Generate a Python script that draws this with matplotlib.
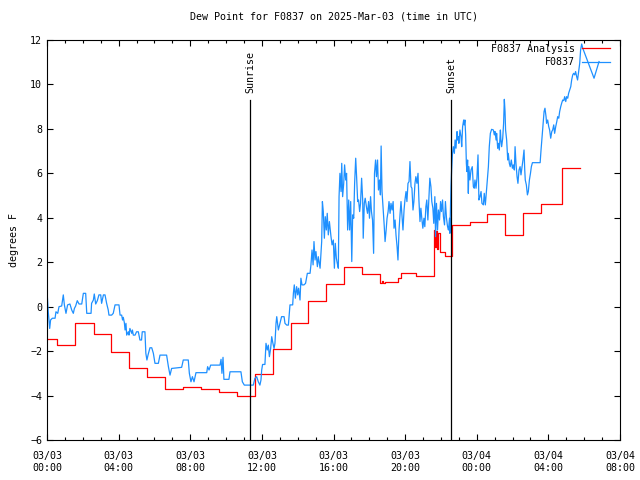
import matplotlib
matplotlib.use('Agg')
import matplotlib.pyplot as plt
from matplotlib.lines import Line2D

plt.rcParams['font.family'] = ['DejaVu Sans Mono']
plt.rcParams['font.size'] = 7.2

# hours since 03/03 00:00 UTC
hour_ticks = [0, 4, 8, 12, 16, 20, 24, 28, 32]
hour_labels = ["03/03\n00:00", "03/03\n04:00", "03/03\n08:00", "03/03\n12:00", "03/03\n16:00",
               "03/03\n20:00", "03/04\n00:00", "03/04\n04:00", "03/04\n08:00"]
y_ticks = [-6, -4, -2, 0, 2, 4, 6, 8, 10, 12]

sunrise = 11.34
sunset = 22.56

# analysis (hourly steps)
ana_t = [0, 0.58, 1.58, 2.6, 3.6, 4.6, 5.6, 6.6, 7.6, 8.6, 9.6, 10.6, 11.6, 12.6, 13.6,
         14.6, 15.6, 16.6, 17.6, 18.6, 18.7, 18.75, 18.85, 19.6, 19.75, 20.6, 21.6, 21.65,
         21.7, 21.8, 21.85, 21.95, 22.2, 22.6, 23.6, 24.6, 25.6, 26.6, 27.6, 28.75, 29.77]
ana_v = [-1.47, -1.73, -0.75, -1.23, -2.05, -2.78, -3.15, -3.72, -3.63, -3.72, -3.83, -4.02,
         -3.03, -1.92, -0.72, 0.25, 1.0, 1.77, 1.47, 1.05, 1.15, 1.05, 1.12, 1.3, 1.5, 1.39,
         3.45, 2.7, 3.4, 2.6, 3.3, 2.47, 2.28, 3.67, 3.8, 4.17, 3.23, 4.2, 4.62, 6.25, 6.25]

# station obs
obs_t = [0.02, 0.07, 0.15, 0.2, 0.3, 0.45, 0.5, 0.6, 0.67, 0.82, 0.91, 0.97, 1.06, 1.15,
         1.28, 1.38, 1.47, 1.53, 1.6, 1.69, 1.79, 1.94, 2.03, 2.16, 2.22, 2.46, 2.49, 2.59,
         2.64, 2.72, 2.81, 2.9, 3.0, 3.05, 3.15, 3.24, 3.33, 3.42, 3.46, 3.61, 3.7, 3.8,
         4.02, 4.08, 4.17, 4.22, 4.26, 4.32, 4.36, 4.41, 4.45, 4.54, 4.58, 4.63, 4.73, 4.77,
         4.82, 4.92, 5.0, 5.1, 5.19, 5.28, 5.32, 5.47,
         5.52, 5.58, 5.65, 5.75, 5.85, 5.94, 6.03, 6.22, 6.31, 6.68, 6.78, 6.87, 6.96, 7.52,
         7.61, 7.89, 7.95, 8.04, 8.12, 8.21, 8.32, 8.92, 8.97, 9.05, 9.14, 9.66, 9.72, 9.77,
         9.83, 9.88, 10.16, 10.22, 10.83, 10.91, 11.02, 11.52,
         11.61, 11.71, 11.8, 11.89, 11.95, 11.99, 12.04, 12.17, 12.23, 12.3, 12.36, 12.42,
         12.49, 12.55, 12.6, 12.68, 12.73, 12.79, 12.83, 12.92, 13.01, 13.1, 13.24, 13.29,
         13.39, 13.48, 13.57, 13.72, 13.76, 13.81, 13.87, 13.94, 14.0, 14.05, 14.13, 14.18,
         14.24, 14.35, 14.44, 14.54, 14.69, 14.74, 14.8, 14.86, 14.91, 14.97, 15.02, 15.1,
         15.15, 15.25, 15.34, 15.38, 15.43, 15.49, 15.54, 15.6, 15.65, 15.71, 15.77,
         15.86, 15.92, 15.99, 16.05, 16.1, 16.16, 16.21, 16.27, 16.31, 16.36, 16.42, 16.46,
         16.51, 16.57, 16.62, 16.68, 16.73, 16.79, 16.85, 16.9, 16.96, 17.02, 17.07, 17.13,
         17.18, 17.24, 17.29, 17.35, 17.4, 17.46, 17.51, 17.57, 17.63, 17.66, 17.72, 17.77,
         17.85, 17.9, 17.96, 18.01, 18.07, 18.12, 18.18, 18.24, 18.29, 18.35, 18.4, 18.46,
         18.51, 18.57, 18.62, 18.66, 18.71, 18.77, 18.83, 18.88, 18.94, 18.99, 19.05, 19.1,
         19.16, 19.21, 19.27, 19.33, 19.38, 19.44, 19.49, 19.55, 19.6, 19.66, 19.72, 19.77,
         19.83, 19.88, 19.94, 19.99, 20.05, 20.1, 20.16, 20.22, 20.27, 20.33, 20.38, 20.44,
         20.49, 20.55, 20.6, 20.66, 20.72, 20.77, 20.83, 20.88, 20.94, 20.99, 21.05, 21.1,
         21.16, 21.21, 21.27, 21.33, 21.38, 21.44, 21.49, 21.55, 21.6, 21.66, 21.7, 21.75,
         21.81, 21.86, 21.92, 21.98, 22.03, 22.09, 22.14, 22.2, 22.25, 22.31, 22.37, 22.42,
         22.48, 22.5,
         22.56, 22.6, 22.64, 22.69, 22.75, 22.79, 22.84, 22.9, 22.93, 22.97, 23.0, 23.06,
         23.12, 23.16, 23.21, 23.27, 23.3, 23.34, 23.38, 23.42, 23.45, 23.49, 23.53, 23.56,
         23.62, 23.68, 23.75, 23.81, 23.86, 23.9, 23.96, 24.01, 24.07, 24.12, 24.18, 24.24,
         24.29, 24.37, 24.42, 24.48, 24.53, 24.59, 24.65, 24.7, 24.76, 24.83, 24.93, 24.98,
         25.02, 25.08, 25.11, 25.17, 25.21, 25.26, 25.32, 25.35, 25.39, 25.45, 25.5, 25.54,
         25.58, 25.61, 25.67, 25.73, 25.76, 25.82, 25.87, 25.93, 25.99, 26.04, 26.1, 26.14,
         26.19, 26.25, 26.3, 26.36, 26.42, 26.47, 26.53, 26.58, 26.64, 26.68, 26.71, 26.77,
         26.83, 26.88, 26.94, 27.0, 27.05, 27.11, 27.54, 27.59, 27.65, 27.7, 27.76, 27.81,
         27.87, 27.9, 27.96, 28.02, 28.07, 28.13, 28.19, 28.24, 28.3, 28.35, 28.41, 28.47,
         28.52, 28.58, 28.63, 28.69, 28.74, 28.8, 28.86, 28.91, 28.97, 29.02, 29.08, 29.13,
         29.19, 29.25, 29.3, 29.36, 29.41, 29.47, 29.52, 29.58, 29.63, 29.69, 29.75, 29.8,
         29.86, 29.92, 30.55, 30.83]
obs_v = [0.45, -0.23, -0.98, -0.6, -0.52, -0.52, -0.23, -0.3, 0.0, 0.03, 0.53, 0.08, -0.3, 0.08,
         0.12, -0.15, -0.3, -0.08, 0.03, 0.27, 0.12, 0.12, 0.6, 0.6, -0.3, -0.3, 0.15, 0.3,
         0.57, 0.12, 0.27, 0.53, 0.53, 0.15, 0.53, 0.53, 0.15, -0.15, -0.38, -0.38, -0.3, 0.08,
         0.08, -0.38, -0.38, -0.6, -0.48, -0.72, -1.05, -0.75, -1.28, -1.13, -1.28, -0.98, -1.2, -1.05,
         -1.28, -1.28, -1.13, -1.13, -1.5, -1.5, -1.13, -1.13,
         -2.1, -2.4, -2.15, -1.85, -1.85, -2.1, -2.55, -2.55, -2.18, -2.18, -2.7, -3.08, -2.78, -2.73,
         -2.4, -2.4, -3.0, -3.38, -3.15, -3.38, -2.97, -2.97, -2.7, -2.85, -2.63, -2.63, -2.37, -3.0,
         -2.28, -3.27, -3.27, -2.93, -2.93, -3.38, -3.53, -3.53,
         -3.23, -3.15, -3.38, -3.53, -3.3, -2.85, -2.6, -2.6, -1.65, -1.95, -1.73, -2.25,
         -1.88, -1.35, -1.58, -1.88, -1.65, -0.75, -0.45, -1.05, -0.75, -0.45, -0.45, -0.75,
         -0.83, -0.83, 0.08, 0.08, 0.6, 0.98, 0.38, 0.9, 0.53, 0.83, 0.3, 1.28,
         0.98, 0.98, 1.05, 1.5, 1.5, 1.88, 2.55, 1.88, 2.93, 2.1, 2.48, 1.8,
         2.25, 1.73, 2.93, 4.73, 4.28, 3.08, 4.05, 3.45, 4.2, 3.23, 3.83,
         3.15, 2.78, 3.0, 1.73, 2.85, 2.18, 1.95, 1.73, 4.95, 6.0, 5.18, 6.45,
         4.95, 5.55, 6.38, 5.7, 6.0, 3.45, 4.8, 3.45, 4.73, 2.03, 4.13, 3.98,
         5.55, 6.68, 5.85, 4.73, 4.8, 4.28, 4.65, 5.78, 4.8, 3.08, 4.65, 4.88,
         4.43, 4.2, 4.73, 3.98, 4.95, 4.28, 3.9, 2.4, 6.0, 6.6, 5.85, 6.6,
         5.25, 5.7, 5.03, 7.23, 5.18, 4.43, 3.68, 2.93, 3.45, 3.98, 4.28, 4.73,
         4.2, 4.65, 4.35, 4.73, 3.53, 3.9, 3.23, 2.7, 2.1, 3.45, 4.2, 4.73,
         4.05, 3.45, 4.35, 4.8, 5.18, 4.73, 5.55, 5.63, 6.53, 5.4, 5.33, 4.35,
         4.73, 5.55, 5.85, 5.55, 6.0, 4.8, 3.83, 4.43, 3.9, 3.53, 3.98, 3.6,
         4.5, 4.8, 3.9, 4.95, 5.78, 5.4, 4.73, 4.43, 3.75, 4.95, 3.15, 4.65,
         3.45, 4.35, 3.9, 4.73, 4.28, 4.8, 4.05, 3.68, 4.73, 3.98, 3.6, 3.45,
         3.98, 3.3,
         5.4, 6.2, 6.83, 7.2, 6.9, 7.5, 7.13, 7.88, 7.5, 7.65, 7.35, 7.95,
         7.65, 7.2, 8.1, 8.4, 8.18, 8.4, 7.73, 6.45, 6.08, 6.6, 5.1, 6.3,
         5.7, 6.15, 6.3, 5.4, 5.33, 5.7, 5.33, 5.78, 6.83, 4.8, 4.95, 5.18,
         4.65, 4.58, 5.1, 4.58, 5.1, 5.7, 6.3, 7.2, 7.8, 7.98, 7.95, 7.73,
         7.88, 7.5, 7.8, 7.13, 7.35, 7.05, 7.95, 7.5, 7.2, 7.58, 8.25, 9.33,
         8.78, 7.95, 7.5, 6.6, 6.9, 6.45, 6.3, 6.6, 6.23, 6.38, 6.15, 7.2,
         6.45, 5.85, 5.55, 6.15, 6.3, 5.93, 6.3, 6.6, 7.05, 6.15, 5.7, 5.48,
         5.03, 5.18, 5.7, 6.0, 6.3, 6.48, 6.48, 7.05, 7.65, 8.18, 8.78, 8.93,
         8.55, 8.25, 8.4, 8.1, 7.95, 7.58, 7.88, 7.95, 8.18, 7.8, 8.1, 8.33,
         8.55, 8.48, 8.78, 9.0, 9.15, 9.3, 9.27, 9.45, 9.23, 9.45, 9.38, 9.6,
         9.75, 9.9, 10.2, 10.43, 10.5, 10.43, 10.58, 10.35, 10.2, 10.58, 10.95, 11.55,
         11.82, 11.63, 10.28, 11.03]

fig = plt.figure(figsize=(6.4, 4.8), dpi=100)
ax = fig.add_axes([47 / 640, 40 / 480, 573 / 640, 400 / 480])

ax.plot(ana_t, ana_v, drawstyle='steps-post', color='#ff0000', lw=0.9)
ax.plot(obs_t, obs_v, color='#1e90ff', lw=0.9)

for t, name in [(sunrise, 'Sunrise'), (sunset, 'Sunset')]:
    ax.plot([t, t], [-6, 9.3], color='black', lw=0.9, zorder=5)
    ax.text(t, 9.6, name, rotation=90, ha='center', va='bottom')

ax.set_xlim(0, 32)
ax.set_ylim(-6, 12)
ax.set_xticks(hour_ticks)
ax.set_xticklabels(hour_labels)
ax.set_xticks(range(0, 33), minor=True)
ax.set_yticks(y_ticks)
ax.tick_params(which='both', direction='in', top=True, right=True, width=0.8)
ax.tick_params(which='major', length=4.5)
ax.tick_params(which='minor', length=2.2)
ax.tick_params(axis='x', pad=8)
for s in ax.spines.values():
    s.set_linewidth(0.8)

ax.set_title('Dew Point for F0837 on 2025-Mar-03 (time in UTC)', fontsize=7.2, pad=15)
ax.set_ylabel('degrees F', labelpad=8)

handles = [Line2D([], [], color='#ff0000', lw=0.9), Line2D([], [], color='#1e90ff', lw=0.9)]
ax.legend(handles, ['F0837 Analysis', 'F0837'], loc='upper right', frameon=False,
          markerfirst=False, handlelength=2.8, handletextpad=0.7, labelspacing=0.35,
          borderaxespad=0, bbox_to_anchor=(0.9895, 1.0))

fig.savefig('out.png', dpi=100)
